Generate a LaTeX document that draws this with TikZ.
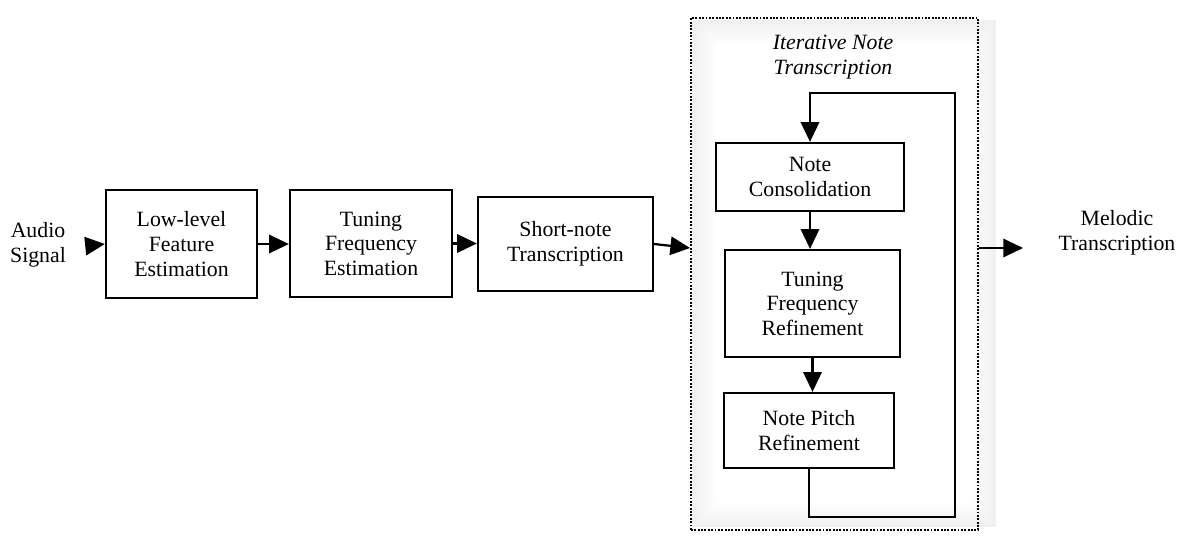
\documentclass[tikz,border=0pt]{standalone}
\usepackage{fontspec}
\setmainfont{Liberation Serif}
\usetikzlibrary{arrows.meta, positioning, calc}

\begin{document}
\begin{tikzpicture}[
	x=0.025cm, y=-0.025cm,
	every node/.style={font=\fontsize{15.5}{17.5}\selectfont},
	block/.style={
		rectangle, draw, line width=1.6pt, fill=white,
		inner sep=2pt, align=center
	},
	label/.style={align=center, inner sep=0pt},
	arrow/.style={-{Triangle[length=14pt, width=13pt]}, line width=1.6pt},
	iterbox/.style={
		rectangle, draw, line width=1.3pt, dash pattern=on 1.3pt off 1.1pt,
		minimum width=7.175cm, minimum height=12.8cm
	}
	]
	\useasboundingbox (0,0) rectangle (1177,535);
	
	% Soft shade behind the iterative part
	\foreach \k in {0,...,11} {
		\pgfmathsetmacro\shade{6*(1-\k/11)}
		\fill[black!\shade] (692+2.2*\k, 20+2.2*\k) rectangle (996-2.2*\k, 527-2.2*\k);
	}
	
	% Nodes
	\node[iterbox] (iter) at (834.5,274) {};
	\node[label, font=\fontsize{15.5}{17.5}\selectfont\itshape] (itertitle) at (833,57) {Iterative Note\\Transcription};
	
	\node[label] (audio) at (38,245) {Audio\\Signal};
	\node[block, minimum width=3.775cm, minimum height=2.7cm] (lowlevel) at (181.5,244) {Low-level\\Feature\\Estimation};
	\node[block, minimum width=4.05cm, minimum height=2.675cm] (tuningest) at (371,243.5) {Tuning\\Frequency\\Estimation};
	\node[block, minimum width=4.375cm, minimum height=2.35cm] (shortnote) at (565.5,244) {Short-note\\Transcription};
	
	\node[block, minimum width=4.7cm, minimum height=1.7cm] (consol) at (810,177) {Note\\Consolidation};
	\node[block, minimum width=4.375cm, minimum height=2.675cm] (tuningref) at (812.5,303.5) {Tuning\\Frequency\\Refinement};
	\node[block, minimum width=4.25cm, minimum height=1.875cm] (pitchref) at (809,430.5) {Note Pitch\\Refinement};
	
	\node[label] (melodic) at (1117,233) {Melodic\\Transcription};
	
	% Loose ends
	\coordinate (audioout) at (86,246);
	\coordinate (melin) at (1023,248);
	\coordinate (loopbr) at (955,517);
	\coordinate (looptr) at (955,93);
	
	% Arrows
	\draw[arrow] (audioout) -- (lowlevel.west);
	\draw[arrow] (lowlevel.east) -- (tuningest.west |- lowlevel.east);
	\draw[arrow] (tuningest.east) -- (shortnote.west |- tuningest.east);
	\draw[arrow] (shortnote.east) -- (iter.west |- melin);
	\draw[arrow] (iter.east |- melin) -- (melin);
	
	\draw[arrow] (consol.south) -- (tuningref.north -| consol.south);
	\draw[arrow] (tuningref.south) -- (pitchref.north -| tuningref.south);
	\draw[arrow] (pitchref.south) |- (loopbr) -- (looptr) -| (consol.north);
	
\end{tikzpicture}
\end{document}
